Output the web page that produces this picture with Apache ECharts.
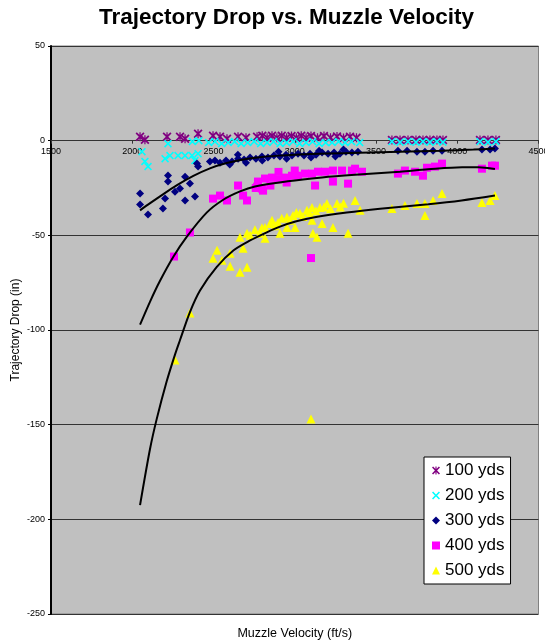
<!DOCTYPE html>
<html>
<head>
<meta charset="utf-8">
<script src="https://cdn.jsdelivr.net/npm/echarts@6/dist/echarts.min.js"></script>
<style>
html,body{margin:0;padding:0;background:#fff;}
#chart{width:545px;height:641px;}
</style>
</head>
<body>
<div id="chart"></div>
<script>
// Series names
const seriesNames = ['100 yds', '200 yds', '300 yds', '400 yds', '500 yds'];
const colors = ['#800080', '#00FFFF', '#000080', '#FF00FF', '#FFFF00'];

// Axis ticks
const xTicks = [1500, 2000, 2500, 3000, 3500, 4000, 4500];
const yTicks = [-250, -200, -150, -100, -50, 0, 50];

// [muzzle velocity ft/s, drop in]
const drop100 = [[2048,2.1],[2078,0.5],[2214,2.1],[2294,2.1],[2325,1],[2405,3.7],[2497,2.6],[2540,2.1],[2583,1],[2651,2.1],[2700,1.5],[2768,2.1],[2800,2.6],[2830,1.5],[2860,2.6],[2890,1.6],[2920,2.6],[2950,1.5],[2980,2.5],[3010,1.6],[3040,2.6],[3070,1.5],[3100,2.4],[3140,1.5],[3180,2.4],[3220,1.5],[3260,2.2],[3300,1.4],[3340,2.1],[3380,1.5],[3598,0.3],[3648,0.3],[3697,0.3],[3746,0.3],[3789,0.3],[3832,0.3],[3875,0.3],[3912,0.3],[4140,0.3],[4189,0.3],[4238,0.3]];

const drop200 = [[2060,-5.8],[2078,-11],[2097,-13.7],[2202,-9.5],[2232,-7.9],[2282,-7.9],[2325,-7.9],[2368,-7.9],[2386,-10.5],[2405,-6.9],[2220,-1.6],[2370,-0.5],[2410,0],[2470,-1],[2509,-0.5],[2550,-1.5],[2590,-1],[2630,-0.5],[2670,-1.5],[2710,-1],[2750,-0.5],[2790,-1.5],[2830,-1],[2870,-0.5],[2910,-1.5],[2950,-1],[2990,-0.5],[3030,-1.5],[3070,-1],[3110,-0.5],[3150,-1.5],[3190,-1],[3230,-1],[3270,-0.5],[3310,-1],[3350,-0.5],[3400,-1],[3598,-0.5],[3648,-0.8],[3697,-0.5],[3746,-0.8],[3789,-0.5],[3832,-0.8],[3875,-0.5],[3912,-0.8],[4140,-0.5],[4189,-0.8],[4238,-0.5]];

const drop300 = [[2048,-27.9],[2048,-33.7],[2097,-39],[2189,-35.8],[2202,-30.5],[2220,-18.4],[2220,-21.6],[2263,-27],[2294,-25.3],[2325,-31.6],[2325,-19],[2355,-22.6],[2386,-29.5],[2405,-13.7],[2398,-12.1],
[2478,-11],[2509,-10.5],[2540,-11.6],[2577,-10.5],[2614,-11],[2651,-9.5],[2688,-10],[2725,-8.9],[2761,-9.5],[2798,-8.4],[2835,-8.9],[2872,-7.9],[2909,-8.4],[2946,-7.4],[2983,-7.9],[3020,-6.9],[3057,-7.9],[3094,-6.9],[3131,-7.4],[3168,-6.3],[3205,-6.9],[3242,-6.3],[3278,-6.9],[3315,-5.8],[3352,-6.3],[3389,-5.8],
[2600,-12.6],[2700,-11.6],[2800,-10.5],[2950,-9.5],[3100,-8.9],[3250,-8.4],[2650,-7.4],[2900,-5.8],[3150,-5.3],[3300,-4.7],
[3635,-5.3],[3691,-5.3],[3752,-5.8],[3801,-5.8],[3851,-5.3],[3906,-5.3],[4152,-4.7],[4202,-4.7],[4232,-4.2]];

const drop400 = [[2257,-61.2],[2355,-48.5],[2497,-30.6],[2540,-29],[2583,-31.6],[2651,-23.7],[2682,-29],[2706,-31.6],[2768,-24.3],
[2774,-21.6],[2805,-26.4],[2817,-20],[2860,-19.5],[2897,-20.5],[2940,-19.5],[2983,-18.5],[3020,-18.5],[3063,-17.4],[3106,-17.4],[3143,-16.4],[3186,-16.4],[3235,-15.8],[3291,-15.8],[3352,-15.8],
[2798,-25.3],[3125,-23.7],[3235,-21.6],[3328,-22.7],[3371,-14.8],[3414,-16.4],[3100,-62],
[2760,-25],[2850,-23.7],[2950,-22.1],[2900,-16.5],[3000,-15.8],
[3635,-17.4],[3678,-15.8],[3740,-16.4],[3789,-18.5],[3814,-14.3],[3863,-13.7],[3906,-12.1],[4152,-14.8],[4214,-13.2],[4232,-13.2]];

const drop500 = [[2263,-115.8],[2355,-91],[3100,-147],
[2522,-57.9],[2497,-62.1],[2552,-63.2],[2602,-59.5],[2682,-56.8],[2602,-66.3],[2663,-69.5],[2706,-66.8],[2663,-51],[2706,-48.9],[2786,-48.9],[2817,-51.6],[2817,-45.8],[2848,-43.7],[2897,-43.2],[2909,-48.9],[2952,-40.5],[2952,-45.8],[2989,-39.5],[3002,-45.8],[3032,-38.4],[3075,-36.8],[3112,-48.9],[3137,-51],[3106,-35.3],[3155,-35.3],[3168,-43.7],[3198,-33.2],[3235,-45.8],[3260,-33.2],[3328,-48.9],[3371,-31.6],[3402,-36.8],[3106,-42],
[2725,-50],[2755,-47],[2798,-46],[2860,-42],[2880,-45],[2920,-41],[2970,-42],[3010,-38],[3050,-40],[3090,-38],[3130,-37],[3180,-35],[3220,-36],[3280,-35],[3300,-33],
[3598,-35.8],[3678,-34.2],[3752,-33.2],[3801,-33.2],[3851,-31.6],[3906,-27.9],[3801,-39.5],[4152,-32.6],[4202,-31.6],[4232,-28.9]];

// Trendlines
const trend300 = [[2048,-36.8],[2110,-33.0],[2171,-29.4],[2273,-23.6],[2376,-18.6],[2478,-14.6],[2581,-11.8],[2683,-9.9],[2786,-8.7],[2900,-7.9],[3000,-7.4],[3200,-6.8],[3400,-6.4],[3650,-5.9],[3900,-5.3],[4100,-4.7],[4232,-4.2]];
const trend400 = [[2048,-97.2],[2109,-85.1],[2171,-74],[2253,-61.3],[2335,-50.8],[2458,-38],[2560,-31.2],[2663,-26.8],[2755,-24.2],[2958,-21.4],[3168,-19.4],[3371,-18.0],[3648,-16.4],[3820,-15.1],[4030,-14.0],[4130,-14.0],[4232,-15.0]];
const trend500 = [[2048,-192.5],[2109,-163],[2150,-147.2],[2212,-127.1],[2263,-113],[2294,-105.3],[2355,-90.5],[2417,-79.1],[2519,-66.8],[2622,-58],[2725,-52.7],[2828,-48.4],[2909,-45.4],[3010,-42.6],[3114,-40.6],[3320,-38],[3525,-36],[3822,-33.6],[4027,-31.6],[4232,-29]];

const xShape = 'path://M0,1.4L1.4,0L5,3.6L8.6,0L10,1.4L6.4,5L10,8.6L8.6,10L5,6.4L1.4,10L0,8.6L3.6,5Z';
const starShape = 'path://M0,1.4L1.4,0L5,3.6L8.6,0L10,1.4L6.4,5L10,8.6L8.6,10L5,6.4L1.4,10L0,8.6L3.6,5ZM4.3,0L5.7,0L5.7,10L4.3,10Z';

const FONT = 'Liberation Sans, Arial, sans-serif';
const scatterData = [drop100, drop200, drop300, drop400, drop500];
const symbols = [starShape, xShape, 'diamond', 'rect', 'triangle'];
const sizes = [9, 8, 8, 8, 9];

const series = scatterData.map((d, i) => ({
  name: seriesNames[i],
  type: 'scatter',
  xAxisIndex: 0,
  data: d,
  symbol: symbols[i],
  symbolSize: sizes[i],
  itemStyle: { color: colors[i], opacity: 1 },
  z: 2 + i
}));
[trend300, trend400, trend500].forEach((t, i) => {
  series.push({
    name: 'trend' + i,
    type: 'line',
    xAxisIndex: 0,
    data: t,
    smooth: 0.3,
    showSymbol: false,
    symbol: 'none',
    lineStyle: { color: '#000', width: 2 },
    z: 10,
    silent: true
  });
});

const numFmt = v => String(v);
const GRID_TOP = 46, GRID_BOTTOM = 27, H = 641;
const plotH = H - GRID_TOP - GRID_BOTTOM;
const zeroOffset = -plotH * (0 - yTicks[0]) / (yTicks[yTicks.length - 1] - yTicks[0]);

const chart = echarts.init(document.getElementById('chart'), null, { renderer: 'canvas' });
chart.setOption({
  animation: false,
  backgroundColor: '#fff',
  title: {
    text: 'Trajectory Drop vs. Muzzle Velocity',
    left: 99, top: 6, padding: 0,
    textStyle: { fontSize: 22.5, fontWeight: 'bold', fontFamily: FONT, color: '#000' }
  },
  grid: {
    left: 51, right: 6.5, top: GRID_TOP, bottom: GRID_BOTTOM,
    outerBoundsMode: 'none',
    containLabel: false,
    show: true, backgroundColor: '#C0C0C0', borderColor: '#808080', borderWidth: 1
  },
  legend: {
    data: seriesNames,
    orient: 'vertical',
    left: 424, top: 457,
    backgroundColor: '#fff', borderColor: '#000', borderWidth: 1, borderRadius: 0,
    padding: [5, 6, 5, 8],
    itemWidth: 8, itemHeight: 8, itemGap: 8,
    selectedMode: false,
    textStyle: { fontSize: 17, fontFamily: FONT, color: '#000' }
  },
  xAxis: [{
    type: 'value', min: xTicks[0], max: xTicks[xTicks.length - 1], interval: 500,
    position: 'bottom',
    offset: zeroOffset,
    axisLine: { onZero: false, lineStyle: { color: '#333', width: 1 } },
    axisTick: { show: true, length: 3, lineStyle: { color: '#333' } },
    axisLabel: { fontSize: 9, color: '#000', margin: 6, fontFamily: FONT, showMinLabel: true, showMaxLabel: true, formatter: numFmt },
    splitLine: { show: false },
    z: 1
  }, {
    type: 'value', min: xTicks[0], max: xTicks[xTicks.length - 1], interval: 500,
    position: 'bottom',
    axisLine: { show: false, onZero: false },
    axisTick: { show: false },
    axisLabel: { show: false },
    splitLine: { show: false },
    name: 'Muzzle Velocity (ft/s)',
    nameLocation: 'middle', nameGap: 13, nameMoveOverlap: false,
    nameTextStyle: { fontSize: 12.5, fontFamily: FONT, color: '#000' }
  }],
  yAxis: {
    type: 'value', min: yTicks[0], max: yTicks[yTicks.length - 1], interval: 50,
    axisLine: { show: true, onZero: false, lineStyle: { color: '#000', width: 2 } },
    axisTick: { show: true, length: 3, lineStyle: { color: '#000' } },
    axisLabel: { fontSize: 9, color: '#000', margin: 6, fontFamily: FONT, formatter: numFmt },
    splitLine: { show: true, lineStyle: { color: '#333', width: 1 } },
    name: 'Trajectory Drop (in)',
    nameLocation: 'middle', nameGap: 29, nameMoveOverlap: false,
    nameTextStyle: { fontSize: 12, fontFamily: FONT, color: '#000' }
  },
  series: series
});
</script>
</body>
</html>
